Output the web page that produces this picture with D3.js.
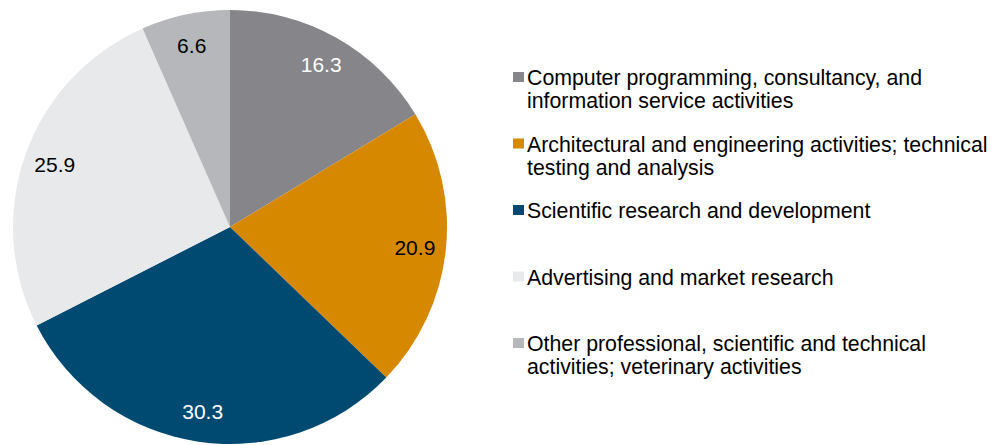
<!DOCTYPE html>
<html><head><meta charset="utf-8">
<script src="https://cdn.jsdelivr.net/npm/d3@7"></script>
<style>body{margin:0;background:#fff;}svg{display:block;}</style>
</head><body>
<svg id="chart" width="997" height="445"></svg>
<script>
const categories = [
  ["Computer programming, consultancy, and", "information service activities"],
  ["Architectural and engineering activities; technical", "testing and analysis"],
  ["Scientific research and development"],
  ["Advertising and market research"],
  ["Other professional, scientific and technical", "activities; veterinary activities"]
];
const values = [16.3, 20.9, 30.3, 25.9, 6.6];
const colors = ["#868589", "#d68800", "#004a72", "#e8e9eb", "#b6b7ba"];
const labelColors = ["#ffffff", "#000000", "#ffffff", "#000000", "#000000"];

const svg = d3.select("#chart");
const font = "'Liberation Sans', Arial, sans-serif";
const cx = 230, cy = 227, R = 217;

const pie = d3.pie().sort(null).value(d => d)(values);
const arc = d3.arc().innerRadius(0).outerRadius(R);
const labelArc = d3.arc().innerRadius(186).outerRadius(186);

const g = svg.append("g").attr("transform", `translate(${cx},${cy})`);
g.selectAll("path").data(pie).join("path")
  .attr("d", arc).attr("fill", (d, i) => colors[i]);
g.selectAll("text").data(pie).join("text")
  .attr("transform", d => `translate(${labelArc.centroid(d)})`)
  .attr("text-anchor", "middle").attr("dy", "0.36em")
  .attr("font-family", font).attr("font-size", 21)
  .attr("fill", (d, i) => labelColors[i])
  .text(d => d.data.toFixed(1));

const leg = svg.append("g");
const y = d3.scalePoint().domain(d3.range(values.length)).range([85, 351]);
categories.forEach((lines, i) => {
  const by = y(i);
  leg.append("rect").attr("x", 513).attr("y", by - 13).attr("width", 11).attr("height", 10)
    .attr("fill", colors[i]);
  const t = leg.append("text").attr("x", 527).attr("y", by)
    .attr("font-family", font).attr("font-size", 21.3).attr("fill", "#000");
  lines.forEach((l, j) => t.append("tspan").attr("x", 527).attr("y", by + j * 23).text(l));
});
</script>
</body></html>
